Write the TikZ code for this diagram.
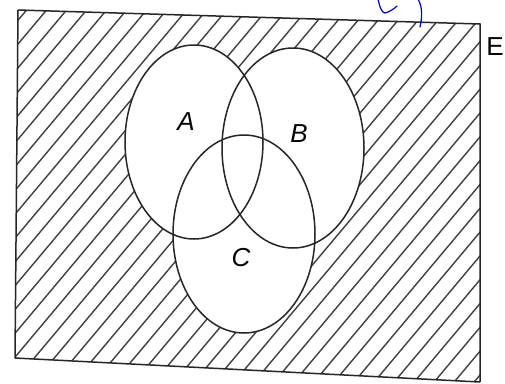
\documentclass[tikz,border=0pt]{standalone}
\usepackage{fontspec}
\setmainfont{Liberation Sans}
\begin{document}
\begin{tikzpicture}[x=1pt,y=-1pt,
  hatch/.style={line width=1.4pt,black!75},
  setline/.style={line width=1.5pt,black!85},
  setlabel/.style={font=\itshape\fontsize{26}{26}\selectfont,inner sep=0pt},
  pen/.style={line width=1.2pt,blue!70!black,line cap=round,line join=round}]
\useasboundingbox (0,0) rectangle (505,383);
\fill[white] (0,0) rectangle (505,383);
\coordinate (tl) at (18,10);
\coordinate (tr) at (480,24);
\coordinate (br) at (480,382);
\coordinate (bl) at (15,358);
\begin{scope}
  \clip (tl) -- (tr) -- (br) -- (bl) -- cycle;
  \foreach \i in {-2,...,44} {
    \draw[hatch] ({35+20*\i},0) -- ++(-336,400);
  }
\end{scope}
\fill[white] (194,142) ellipse [x radius=69, y radius=97];
\fill[white] (293,148) ellipse [x radius=71, y radius=100];
\fill[white] (244,234) ellipse [x radius=71, y radius=99];
\draw[setline] (194,142) ellipse [x radius=69, y radius=97];
\draw[setline] (293,148) ellipse [x radius=71, y radius=100];
\draw[setline] (244,234) ellipse [x radius=71, y radius=99];
\draw[setline] (tl) -- (tr) -- (br) (bl) -- (tl) (bl) -- (br);
\node[setlabel] (A) at (186,122) {A};
\node[setlabel] (B) at (299,134) {B};
\node[setlabel] (C) at (241,258) {C};
\node[setlabel,font=\fontsize{26}{26}\selectfont] (E) at (495,47) {E};
\draw[pen] (378,-1) .. controls (380,8) and (382,13) .. (385,13) .. controls (389,12) and (394,9) .. (397,6);
\draw[pen] (418,-1) .. controls (423,8) and (422,18) .. (420,27);
\end{tikzpicture}
\end{document}
